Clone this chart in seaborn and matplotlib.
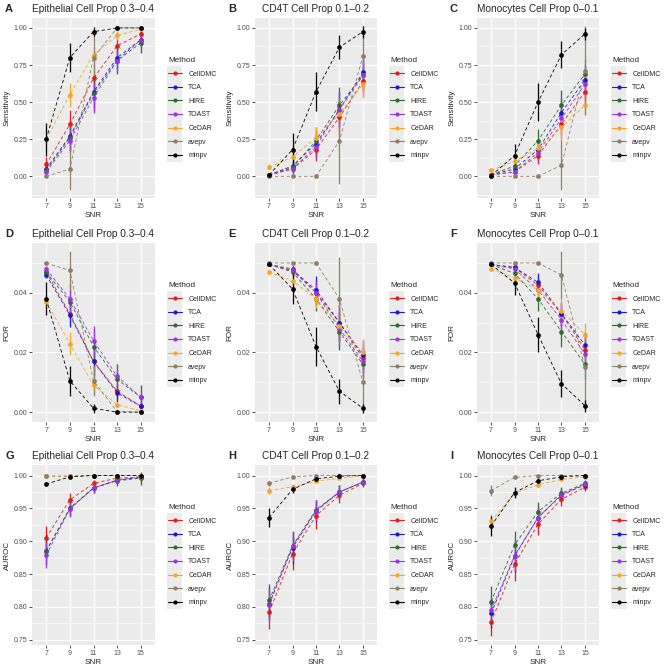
import numpy as np
import pandas as pd
import matplotlib
matplotlib.use("Agg")
import matplotlib.pyplot as plt
from matplotlib.lines import Line2D
from matplotlib.patches import Rectangle
from matplotlib.ticker import FormatStrFormatter, FixedLocator
import seaborn as sns

SNR = [7, 9, 11, 13, 15]
METHODS = ["CellDMC", "TCA", "HIRE", "TOAST", "CeDAR", "avepv", "minpv"]
COLORS = ["#E41A1C", "#1A1AD0", "#2F6B2F", "#9A33E0", "#F5A623", "#8C7F66", "#000000"]
CELL_TITLES = ["Epithelial Cell Prop 0.3\u20130.4", "CD4T Cell Prop 0.1\u20130.2",
               "Monocytes Cell Prop 0\u20130.1"]
LETTERS = ["A", "B", "C", "D", "E", "F", "G", "H", "I"]

# ---- Sensitivity (rows = methods in METHODS order, cols = SNR) ----
SENS_EPI = [[0.08, 0.35, 0.66, 0.88, 0.96],
            [0.05, 0.27, 0.57, 0.80, 0.92],
            [0.04, 0.26, 0.56, 0.78, 0.90],
            [0.03, 0.24, 0.53, 0.78, 0.92],
            [0.25, 0.55, 0.82, 0.95, 0.99],
            [0.00, 0.05, 0.80, 1.00, 1.00],
            [0.25, 0.80, 0.975, 1.00, 1.00]]
SENS_EPI_ERR = [[0.05, 0.10, 0.10, 0.06, 0.03],
                [0.04, 0.09, 0.11, 0.08, 0.05],
                [0.04, 0.09, 0.12, 0.09, 0.07],
                [0.03, 0.08, 0.10, 0.07, 0.05],
                [0.08, 0.08, 0.06, 0.03, 0.01],
                [0.00, 0.14, 0.15, 0.00, 0.00],
                [0.11, 0.10, 0.03, 0.00, 0.00]]
SENS_CD4T = [[0.01, 0.05, 0.18, 0.40, 0.64],
             [0.01, 0.07, 0.22, 0.45, 0.70],
             [0.01, 0.06, 0.24, 0.48, 0.68],
             [0.01, 0.05, 0.20, 0.45, 0.68],
             [0.06, 0.13, 0.26, 0.42, 0.62],
             [0.00, 0.00, 0.00, 0.24, 0.81],
             [0.01, 0.18, 0.57, 0.87, 0.975]]
SENS_CD4T_ERR = [[0.01, 0.03, 0.08, 0.12, 0.10],
                 [0.01, 0.04, 0.09, 0.12, 0.10],
                 [0.01, 0.04, 0.09, 0.12, 0.11],
                 [0.01, 0.03, 0.08, 0.12, 0.10],
                 [0.02, 0.04, 0.07, 0.10, 0.09],
                 [0.00, 0.00, 0.00, 0.29, 0.20],
                 [0.01, 0.11, 0.13, 0.08, 0.04]]
SENS_MONO = [[0.01, 0.03, 0.14, 0.35, 0.57],
             [0.01, 0.05, 0.18, 0.43, 0.65],
             [0.01, 0.07, 0.24, 0.48, 0.69],
             [0.01, 0.03, 0.16, 0.39, 0.62],
             [0.04, 0.10, 0.19, 0.33, 0.48],
             [0.00, 0.00, 0.00, 0.075, 0.71],
             [0.005, 0.14, 0.50, 0.82, 0.96]]
SENS_MONO_ERR = [[0.005, 0.02, 0.06, 0.10, 0.10],
                 [0.005, 0.03, 0.07, 0.10, 0.10],
                 [0.005, 0.03, 0.08, 0.10, 0.10],
                 [0.005, 0.02, 0.06, 0.10, 0.10],
                 [0.01, 0.03, 0.06, 0.09, 0.07],
                 [0.00, 0.00, 0.00, 0.17, 0.30],
                 [0.005, 0.08, 0.13, 0.09, 0.04]]

# ---- FOR ----
FOR_EPI = [[0.047, 0.033, 0.017, 0.007, 0.002],
           [0.046, 0.0325, 0.017, 0.0065, 0.002],
           [0.047, 0.037, 0.022, 0.011, 0.005],
           [0.048, 0.038, 0.024, 0.012, 0.005],
           [0.037, 0.023, 0.009, 0.0025, 0.0005],
           [0.050, 0.0475, 0.0105, 0.0002, 0.0],
           [0.038, 0.0105, 0.0013, 0.0, 0.0]]
FOR_EPI_ERR = [[0.001, 0.004, 0.005, 0.003, 0.002],
               [0.001, 0.004, 0.005, 0.003, 0.002],
               [0.001, 0.004, 0.006, 0.005, 0.004],
               [0.001, 0.005, 0.005, 0.004, 0.002],
               [0.002, 0.004, 0.003, 0.001, 0.0005],
               [0.0, 0.0065, 0.005, 0.0005, 0.0],
               [0.0055, 0.005, 0.0015, 0.0, 0.0]]
FOR_CD4T = [[0.0495, 0.048, 0.040, 0.030, 0.018],
            [0.0495, 0.0475, 0.041, 0.030, 0.019],
            [0.0495, 0.047, 0.038, 0.027, 0.016],
            [0.0495, 0.0475, 0.040, 0.028, 0.017],
            [0.047, 0.044, 0.038, 0.029, 0.020],
            [0.050, 0.050, 0.050, 0.038, 0.010],
            [0.0495, 0.0413, 0.022, 0.007, 0.0013]]
FOR_CD4T_ERR = [[0.0005, 0.001, 0.004, 0.006, 0.005],
                [0.0005, 0.0015, 0.0045, 0.006, 0.005],
                [0.0005, 0.0015, 0.004, 0.006, 0.005],
                [0.0005, 0.0015, 0.004, 0.006, 0.005],
                [0.001, 0.002, 0.003, 0.005, 0.0045],
                [0.0, 0.0, 0.0, 0.014, 0.010],
                [0.0005, 0.005, 0.0065, 0.0042, 0.0015]]
FOR_MONO = [[0.0495, 0.0485, 0.0425, 0.033, 0.021],
            [0.0495, 0.0485, 0.0435, 0.033, 0.0225],
            [0.0495, 0.0465, 0.038, 0.027, 0.016],
            [0.0495, 0.048, 0.041, 0.031, 0.0195],
            [0.048, 0.045, 0.041, 0.034, 0.026],
            [0.050, 0.050, 0.050, 0.046, 0.015],
            [0.0495, 0.0433, 0.026, 0.0095, 0.0022]]
FOR_MONO_ERR = [[0.0003, 0.001, 0.003, 0.004, 0.004],
                [0.0003, 0.001, 0.003, 0.004, 0.004],
                [0.0003, 0.0015, 0.004, 0.005, 0.005],
                [0.0003, 0.001, 0.003, 0.005, 0.004],
                [0.0005, 0.0015, 0.003, 0.004, 0.004],
                [0.0, 0.0, 0.0, 0.008, 0.012],
                [0.0003, 0.004, 0.006, 0.0045, 0.002]]

# ---- AUROC ----
AUC_EPI = [[0.905, 0.963, 0.988, 0.996, 0.998],
           [0.885, 0.950, 0.981, 0.993, 0.997],
           [0.885, 0.950, 0.981, 0.992, 0.996],
           [0.879, 0.949, 0.981, 0.993, 0.998],
           [0.999, 0.999, 1.0, 1.0, 1.0],
           [0.999, 0.999, 1.0, 1.0, 1.0],
           [0.987, 0.998, 1.0, 1.0, 1.0]]
AUC_EPI_ERR = [[0.018, 0.011, 0.005, 0.003, 0.002],
               [0.020, 0.012, 0.007, 0.004, 0.003],
               [0.020, 0.012, 0.008, 0.008, 0.010],
               [0.020, 0.012, 0.007, 0.005, 0.003],
               [0.001, 0.0005, 0.0, 0.0, 0.0],
               [0.001, 0.0005, 0.0, 0.0, 0.0],
               [0.003, 0.001, 0.0005, 0.0, 0.0]]
AUC_CD4T = [[0.792, 0.881, 0.939, 0.970, 0.988],
            [0.805, 0.890, 0.946, 0.975, 0.990],
            [0.810, 0.893, 0.948, 0.975, 0.990],
            [0.803, 0.892, 0.946, 0.975, 0.990],
            [0.977, 0.983, 0.991, 0.996, 0.999],
            [0.988, 0.998, 1.0, 1.0, 1.0],
            [0.936, 0.979, 0.995, 0.999, 1.0]]
AUC_CD4T_ERR = [[0.025, 0.025, 0.020, 0.012, 0.006],
                [0.025, 0.024, 0.017, 0.010, 0.005],
                [0.025, 0.022, 0.015, 0.010, 0.005],
                [0.025, 0.022, 0.016, 0.010, 0.005],
                [0.005, 0.004, 0.002, 0.001, 0.0005],
                [0.004, 0.001, 0.0, 0.0, 0.0],
                [0.015, 0.006, 0.002, 0.001, 0.0]]
AUC_MONO = [[0.777, 0.865, 0.926, 0.964, 0.982],
            [0.790, 0.877, 0.936, 0.970, 0.986],
            [0.808, 0.894, 0.945, 0.973, 0.988],
            [0.795, 0.878, 0.936, 0.971, 0.987],
            [0.930, 0.973, 0.986, 0.994, 0.998],
            [0.977, 0.997, 1.0, 1.0, 1.0],
            [0.923, 0.974, 0.992, 0.998, 1.0]]
AUC_MONO_ERR = [[0.022, 0.025, 0.016, 0.010, 0.006],
                [0.022, 0.024, 0.016, 0.010, 0.005],
                [0.024, 0.021, 0.015, 0.010, 0.005],
                [0.022, 0.024, 0.016, 0.010, 0.005],
                [0.012, 0.006, 0.003, 0.002, 0.001],
                [0.008, 0.001, 0.0, 0.0, 0.0],
                [0.015, 0.008, 0.004, 0.001, 0.0]]

ROWS = [
    ("Sensitivity", [SENS_EPI, SENS_CD4T, SENS_MONO], [SENS_EPI_ERR, SENS_CD4T_ERR, SENS_MONO_ERR],
     (-0.146, 1.067), [0, 0.25, 0.5, 0.75, 1.0], "%.2f"),
    ("FOR", [FOR_EPI, FOR_CD4T, FOR_MONO], [FOR_EPI_ERR, FOR_CD4T_ERR, FOR_MONO_ERR],
     (-0.0033, 0.0567), [0, 0.02, 0.04], "%.2f"),
    ("AUROC", [AUC_EPI, AUC_CD4T, AUC_MONO], [AUC_EPI_ERR, AUC_CD4T_ERR, AUC_MONO_ERR],
     (0.742, 1.016), [0.75, 0.80, 0.85, 0.90, 0.95, 1.00], "%.2f"),
]

W, H = 666, 670
COL_L = [32, 255, 477]
COL_R = [155, 377, 599]
ROW_T = [18, 243, 465]
ROW_B = [198, 422, 645]
LEG_X = [168, 390, 612]

sns.set_theme(style="darkgrid", rc={
    "axes.facecolor": "#EBEBEB", "grid.color": "white",
    "xtick.bottom": True, "ytick.left": True,
    "xtick.major.size": 2, "ytick.major.size": 2,
    "xtick.major.width": 0.6, "ytick.major.width": 0.6,
    "xtick.color": "#333333", "ytick.color": "#333333",
    "xtick.labelcolor": "#4D4D4D", "ytick.labelcolor": "#4D4D4D",
    "xtick.major.pad": 1.5, "ytick.major.pad": 1.5,
})
plt.rcParams["font.family"] = ["Liberation Sans", "DejaVu Sans"]

palette = dict(zip(METHODS, COLORS))
fig = plt.figure(figsize=(W / 100, H / 100), dpi=100)
legends = []

for r, (ylab, means, errs, ylim, yticks, fmt) in enumerate(ROWS):
    for c in range(3):
        ax = fig.add_axes([COL_L[c] / W, 1 - ROW_B[r] / H,
                           (COL_R[c] - COL_L[c]) / W, (ROW_B[r] - ROW_T[r]) / H])
        df = pd.DataFrame({
            "SNR": np.tile(SNR, len(METHODS)),
            "value": np.ravel(means[c]),
            "err": np.ravel(errs[c]),
            "Method": np.repeat(METHODS, len(SNR)),
        })
        for i, m in enumerate(METHODS):
            sub = df[df["Method"] == m]
            ax.errorbar(sub["SNR"], sub["value"], yerr=sub["err"], fmt="none",
                        ecolor=COLORS[i], elinewidth=0.9, capsize=0, zorder=2 + i * 0.1)
        sns.lineplot(data=df, x="SNR", y="value", hue="Method", hue_order=METHODS,
                     palette=palette, marker="o", markersize=3.4, markeredgewidth=0,
                     linewidth=0.6, linestyle=(0, (4, 3)), errorbar=None,
                     legend=False, ax=ax, zorder=3)

        ax.set_xlim(5.8, 16.2)
        ax.set_xticks(SNR)
        ax.set_ylim(*ylim)
        ax.yaxis.set_major_locator(FixedLocator(yticks))
        minors = [(a + b) / 2 for a, b in zip(yticks[:-1], yticks[1:])]
        step = yticks[1] - yticks[0]
        minors += [yticks[0] - step / 2, yticks[-1] + step / 2]
        ax.yaxis.set_minor_locator(FixedLocator(minors))
        ax.yaxis.set_major_formatter(FormatStrFormatter(fmt))
        ax.grid(which="major", color="white", linewidth=0.9)
        ax.grid(which="minor", axis="y", color="white", linewidth=0.45)
        ax.tick_params(which="minor", length=0)
        ax.tick_params(labelsize=5.0)
        for s in ax.spines.values():
            s.set_visible(False)
        ax.set_xlabel("SNR", fontsize=5.9, labelpad=1.5)
        ax.set_ylabel(ylab, fontsize=5.9, labelpad=2)
        ax.set_title(CELL_TITLES[c], fontsize=7.3, pad=4)
        fig.text((COL_L[c] - 27) / W, 1 - (ROW_T[r] - 9) / H, LETTERS[r * 3 + c],
                 fontsize=8, fontweight="bold", ha="left", va="center")

        handles = [Line2D([], [], color=col, marker="o", markersize=3.0,
                          markeredgewidth=0, linewidth=0.8) for col in COLORS]
        leg = ax.legend(handles, METHODS, title="Method", loc="upper left",
                        bbox_to_anchor=(LEG_X[c] / W, 1 - (ROW_T[r] + 39) / H),
                        bbox_transform=fig.transFigure, frameon=False,
                        fontsize=5.0, title_fontsize=5.9, handlelength=2.0,
                        handletextpad=0.9, labelspacing=0.95, borderpad=0,
                        borderaxespad=0, alignment="left")
        legends.append(leg)

# grey key column behind each legend, as ggplot draws it
fig.canvas.draw()
renderer = fig.canvas.get_renderer()
for leg in legends:
    boxes = [h.get_window_extent(renderer) for h in leg.legend_handles]
    xc = np.mean([(b.x0 + b.x1) / 2 for b in boxes])
    ys = [(b.y0 + b.y1) / 2 for b in boxes]
    pitch = (max(ys) - min(ys)) / (len(ys) - 1)
    x0, x1 = xc - 7.5, xc + 7.5
    y0, y1 = min(ys) - pitch / 2, max(ys) + pitch / 2
    fig.add_artist(Rectangle((x0 / W, y0 / H), (x1 - x0) / W, (y1 - y0) / H,
                             transform=fig.transFigure, facecolor="#EBEBEB",
                             edgecolor="none", zorder=-1))

fig.savefig("out.png", dpi=100)
